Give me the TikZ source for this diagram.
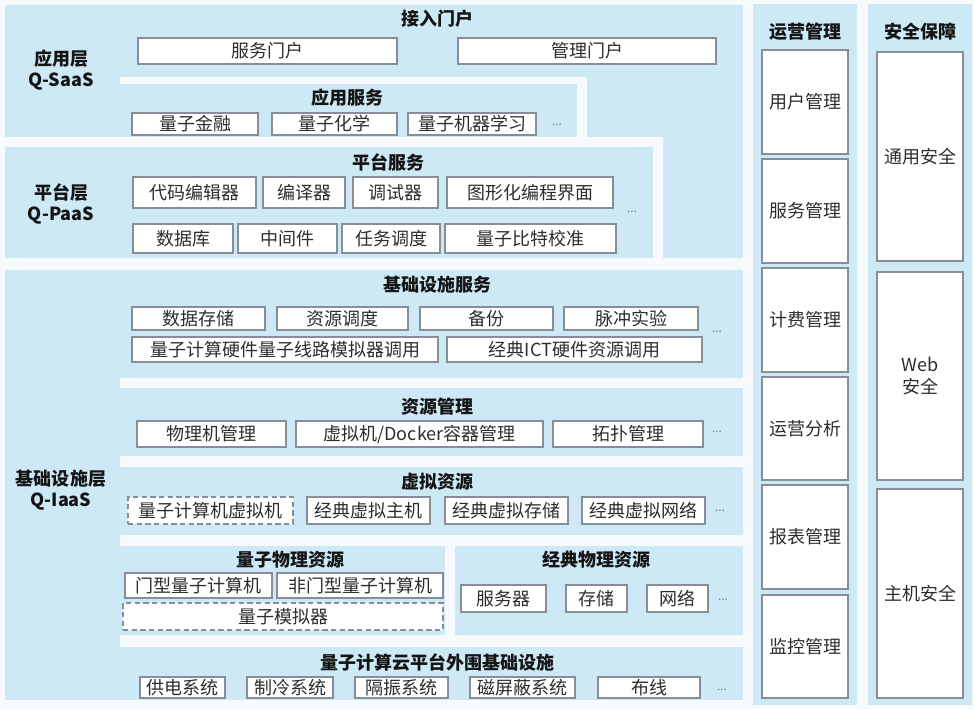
\documentclass[tikz,border=0pt]{standalone}
\usepackage{fontspec}
\setmainfont{Noto Sans CJK SC}
\definecolor{pblue}{RGB}{205,233,246}
\definecolor{bgw}{RGB}{246,250,252}
\definecolor{bline}{RGB}{135,142,150}
\definecolor{txt}{RGB}{45,45,45}
\definecolor{ttlc}{RGB}{20,20,20}
\tikzset{
  box/.style={draw=bline, line width=0.9pt, fill=white, inner sep=0pt, outer sep=0pt, text=txt, font=\fontsize{13.5}{16}\selectfont, align=center},
  dbox/.style={box, dash pattern=on 4pt off 2.5pt},
  ttl/.style={font=\fontsize{13.5}{16}\selectfont\bfseries, text=ttlc, inner sep=0pt, align=center},
  ellip/.style={font=\fontsize{9}{10}\selectfont, text=gray, inner sep=0pt},
  strip/.style={fill=bgw},
  panel/.style={fill=pblue},
}
\newcommand{\bx}[7][box]{\node[#1, minimum width={(#5-#3)*0.75pt}, minimum height={(#6-#4)*0.75pt}] (#2) at ({(#3+#5)/2},{(#4+#6)/2}) {#7};}
\begin{document}
\begin{tikzpicture}[x=0.75pt,y=-0.75pt]
\useasboundingbox (0,0) rectangle (974,709);
\fill[bgw] (0,0) rectangle (974,709);
% top panel (application layer + right column)
\fill[panel] (5,5) rectangle (743,258);
\fill[strip] (120,77) rectangle (587,84);
\fill[strip] (577,77) rectangle (587,137);
\fill[strip] (0,137) rectangle (663,147);
\fill[strip] (653,137) rectangle (663,260);
% infrastructure panel
\fill[panel] (5,270) rectangle (743,700);
\fill[strip] (120,378) rectangle (743,388);
\fill[strip] (120,456) rectangle (743,467);
\fill[strip] (120,535) rectangle (743,546);
\fill[strip] (445,546) rectangle (455,636);
\fill[strip] (120,635) rectangle (743,647);
% right columns
\fill[panel] (753,4) rectangle (857,705);
\fill[panel] (868,4) rectangle (972,705);

% layer labels
\node[ttl] (lsaas) at (61,70) {应用层\\Q-SaaS};
\node[ttl] (lpaas) at (61,204) {平台层\\Q-PaaS};
\node[ttl] (liaas) at (61,490) {基础设施层\\Q-IaaS};

% application layer
\node[ttl] (t1) at (437,19) {接入门户};
\bx{a1}{138}{38}{397}{64}{服务门户}
\bx{a2}{458}{38}{716}{64}{管理门户}
\node[ttl] (t2) at (347,98) {应用服务};
\bx{b1}{132}{113}{258}{135}{量子金融}
\bx{b2}{272}{113}{397}{135}{量子化学}
\bx{b3}{408}{113}{536}{135}{量子机器学习}
\node[ellip] (e1) at (557,125) {...};

% platform layer
\node[ttl] (t3) at (388,162) {平台服务};
\bx{c1}{133}{177}{256}{208}{代码编辑器}
\bx{c2}{263}{177}{345}{208}{编译器}
\bx{c3}{353}{177}{438}{208}{调试器}
\bx{c4}{447}{177}{613}{208}{图形化编程界面}
\bx{c5}{133}{224}{233}{253}{数据库}
\bx{c6}{238}{224}{337}{253}{中间件}
\bx{c7}{342}{224}{440}{253}{任务调度}
\bx{c8}{445}{224}{616}{253}{量子比特校准}
\node[ellip] (e2) at (632,212) {...};

% infrastructure services
\node[ttl] (t4) at (437,285) {基础设施服务};
\bx{d1}{132}{307}{265}{330}{数据存储}
\bx{d2}{277}{307}{408}{330}{资源调度}
\bx{d3}{420}{307}{553}{330}{备份}
\bx{d4}{564}{307}{698}{330}{脉冲实验}
\bx{d5}{132}{337}{438}{362}{量子计算硬件量子线路模拟器调用}
\bx{d6}{447}{337}{702}{362}{经典ICT硬件资源调用}
\node[ellip] (e3) at (717,332) {...};

% resource management
\node[ttl] (t5) at (437,407) {资源管理};
\bx{f1}{137}{421}{286}{447}{物理机管理}
\bx{f2}{296}{421}{543}{447}{虚拟机/Docker容器管理}
\bx{f3}{553}{421}{703}{447}{拓扑管理}
\node[ellip] (e4) at (717,432) {...};

% virtual resources
\node[ttl] (t6) at (437,482) {虚拟资源};
\bx[dbox]{g1}{128}{497}{293}{524}{量子计算机虚拟机}
\bx{g2}{307}{497}{430}{524}{经典虚拟主机}
\bx{g3}{445}{497}{568}{524}{经典虚拟存储}
\bx{g4}{582}{497}{705}{524}{经典虚拟网络}
\node[ellip] (e5) at (720,511) {...};

% quantum physical resources
\node[ttl] (t7) at (290,560) {量子物理资源};
\bx{h1}{125}{573}{272}{598}{门型量子计算机}
\bx{h2}{277}{573}{443}{598}{非门型量子计算机}
\bx[dbox]{h3}{123}{603}{443}{630}{量子模拟器}

% classical physical resources
\node[ttl] (t8) at (596,560) {经典物理资源};
\bx{k1}{461}{585}{546}{612}{服务器}
\bx{k2}{566}{585}{627}{612}{存储}
\bx{k3}{647}{585}{708}{612}{网络}
\node[ellip] (e6) at (723,600) {...};

% peripheral infrastructure
\node[ttl] (t9) at (437,663) {量子计算云平台外围基础设施};
\bx{m1}{140}{677}{225}{698}{供电系统}
\bx{m2}{247}{677}{333}{698}{制冷系统}
\bx{m3}{355}{677}{448}{698}{隔振系统}
\bx{m4}{470}{677}{575}{698}{磁屏蔽系统}
\bx{m5}{598}{677}{700}{698}{布线}
\node[ellip] (e7) at (722,690) {...};

% operations management
\node[ttl] (t10) at (805,32) {运营管理};
\bx{o1}{762}{50}{848}{154}{用户管理}
\bx{o2}{762}{159}{848}{263}{服务管理}
\bx{o3}{762}{268}{848}{372}{计费管理}
\bx{o4}{762}{377}{848}{480}{运营分析}
\bx{o5}{762}{485}{848}{589}{报表管理}
\bx{o6}{762}{595}{848}{698}{监控管理}

% security
\node[ttl] (t11) at (920,32) {安全保障};
\bx{s1}{877}{52}{963}{261}{通用安全}
\bx{s2}{877}{272}{963}{480}{Web\\安全}
\bx{s3}{877}{489}{963}{698}{主机安全}
\end{tikzpicture}
\end{document}
